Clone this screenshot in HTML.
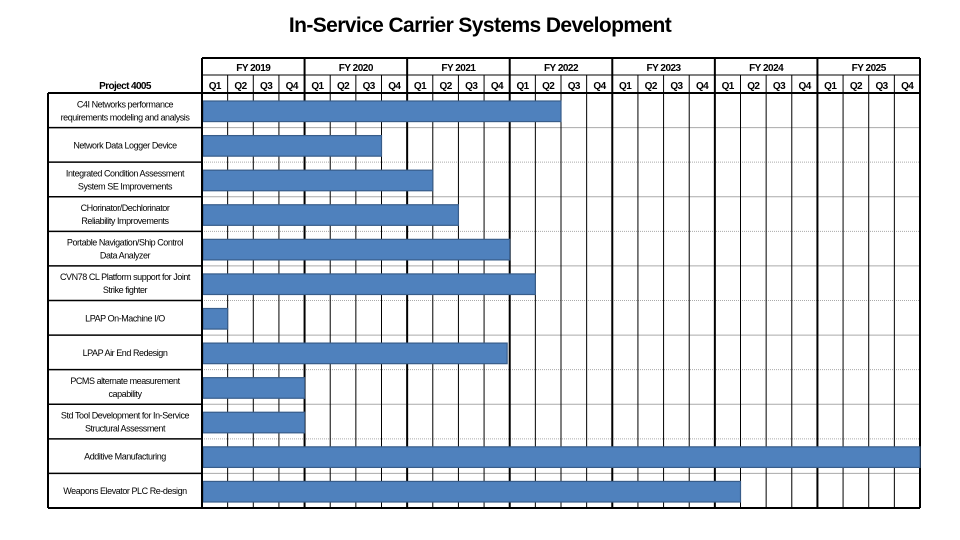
<!DOCTYPE html>
<html><head><meta charset="utf-8"><style>
body{margin:0;background:#fff;width:960px;height:540px;overflow:hidden}
svg{display:block;font-family:"Liberation Sans",Arial,sans-serif}
</style></head><body>
<svg id="chart" width="960" height="540" viewBox="0 0 960 540">
<text x="480" y="32" text-anchor="middle" font-size="21" font-weight="bold" letter-spacing="-0.6">In-Service Carrier Systems Development</text>
<g id="g"></g>
</svg>
<script>
const years = ["FY 2019","FY 2020","FY 2021","FY 2022","FY 2023","FY 2024","FY 2025"];
const quarters = ["Q1","Q2","Q3","Q4"];
const tasks = [
 ["C4I Networks performance","requirements modeling and analysis"],
 ["Network Data Logger Device"],
 ["Integrated Condition Assessment","System SE Improvements"],
 ["CHorinator/Dechlorinator","Reliability Improvements"],
 ["Portable Navigation/Ship Control","Data Analyzer"],
 ["CVN78 CL Platform support for Joint","Strike fighter"],
 ["LPAP On-Machine I/O"],
 ["LPAP Air End Redesign"],
 ["PCMS alternate measurement","capability"],
 ["Std Tool Development for In-Service","Structural Assessment"],
 ["Additive Manufacturing"],
 ["Weapons Elevator PLC Re-design"]
];
const startQ = [0,0,0,0,0,0,0,0,0,0,0,0];
const endQ = [14,7,9,10,12,13,1,11.9,4,4,28,21];

const NS="http://www.w3.org/2000/svg";
const g=document.getElementById('g');
function el(t,a,p){const e=document.createElementNS(NS,t);for(const k in a)e.setAttribute(k,a[k]);(p||g).appendChild(e);return e;}
const X0=202,X1=920,LX=48,TOP=58,QY=75,RY=93,BOT=508;
const nQ=years.length*4;
const qw=(X1-X0)/nQ;
const x=q=>X0+q*qw;
const rh=(BOT-RY)/tasks.length;
const y=i=>RY+i*rh;

// row separators (grid area)
for(let i=1;i<tasks.length;i++){
  const s=el('line',{x1:X0,x2:X1,y1:y(i),y2:y(i),stroke:'#aaa','stroke-width':1,'stroke-dasharray':i%2?'none':'1,1'});
  
  
}
// vertical lines
for(let q=0;q<=nQ;q++){
  const thick=q%4===0;
  const l=el('line',{x1:x(q),x2:x(q),y1:q%4===0?TOP:QY,y2:BOT,stroke:'#000','stroke-width':thick?2:1});
  
  
}
// bars (drawn over grid lines)
tasks.forEach((t,i)=>{
  const b=el('rect',{x:x(startQ[i])+1,y:y(i)+8,width:x(endQ[i])-x(startQ[i])-1,height:rh-14,fill:'#4f81bd',stroke:'#385d8a','stroke-width':1.2});
  
  
});
// header lines
[[TOP,X0,X1,2],[QY,X0,X1,1],[RY,LX,X1,2],[BOT,LX,X1,2]].forEach(a=>{
  const l=el('line',{x1:a[1],x2:a[2],y1:a[0],y2:a[0],stroke:'#000','stroke-width':a[3]});
  
  
});
// label column
const lc=el('line',{x1:LX,x2:LX,y1:RY,y2:BOT,stroke:'#000','stroke-width':2});


const lc2=el('line',{x1:X0,x2:X0,y1:TOP,y2:BOT,stroke:'#000','stroke-width':2});


for(let i=1;i<tasks.length;i++){
  const l=el('line',{x1:LX,x2:X0,y1:y(i),y2:y(i),stroke:'#000','stroke-width':1.5});
  
  
}
// year labels
years.forEach((yr,k)=>{
  const t=el('text',{x:(x(k*4)+x(k*4+4))/2,y:71,'text-anchor':'middle','font-size':10,'font-weight':'bold','letter-spacing':'-0.5'});
  t.textContent=yr;
  
  
  quarters.forEach((qq,j)=>{
    const u=el('text',{x:x(k*4+j)+qw/2,y:89,'text-anchor':'middle','font-size':10,'font-weight':'bold','letter-spacing':'-0.6'});
    u.textContent=qq;
    
    
  });
});
const pj=el('text',{x:125,y:89,'text-anchor':'middle','font-size':10,'font-weight':'bold','letter-spacing':'-0.6'});
pj.textContent='Project 4005';


// task labels
tasks.forEach((t,i)=>{
  const cy=y(i)+rh/2;
  t.forEach((line,j)=>{
    const tx=el('text',{x:125,y:cy+3.5+(j-(t.length-1)/2)*13,'text-anchor':'middle','font-size':9,'letter-spacing':'-0.45'});
    tx.textContent=line;
    
    
  });
});
</script>
</body></html>
